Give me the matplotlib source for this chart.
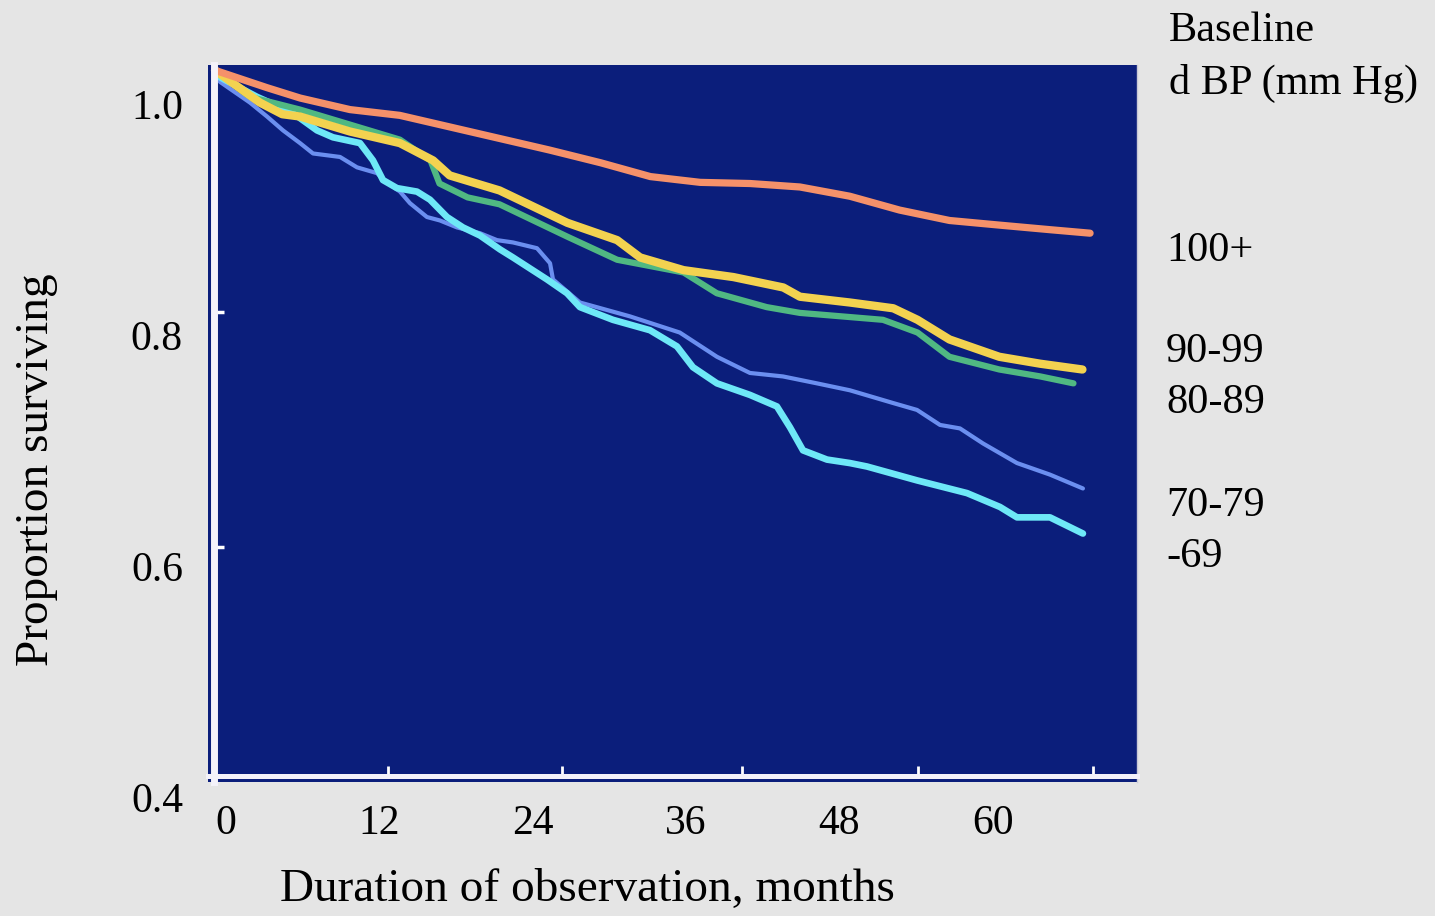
import numpy as np
import matplotlib.pyplot as plt
from matplotlib.transforms import offset_copy

plt.rcParams['font.family'] = ['Liberation Serif', 'DejaVu Serif']

# months of follow-up / proportion surviving, one curve per baseline diastolic BP group
bp_100_months = [-0.86, 3.2, 5.8, 9.7, 13.6, 17.5, 21.4, 25.3, 29.3, 33.2, 37.1, 41.0, 44.9, 48.8, 52.7, 56.6, 60.5, 64.5, 67.6]
bp_100_surv = [1.030, 1.015, 1.006, 0.996, 0.991, 0.981, 0.971, 0.961, 0.950, 0.938, 0.933, 0.932, 0.929, 0.921, 0.909, 0.900, 0.896, 0.892, 0.889]

bp_90_months = [-0.86, 2.66, 4.4, 5.79, 9.70, 13.6, 16.2, 17.5, 21.4, 26.7, 30.6, 32.4, 35.8, 39.7, 43.6, 44.9, 48.8, 52.2, 54.1, 56.6, 60.5, 63.7, 67.0]
bp_90_surv = [1.030, 1.002, 0.992, 0.990, 0.977, 0.967, 0.952, 0.939, 0.926, 0.898, 0.883, 0.868, 0.857, 0.851, 0.842, 0.834, 0.829, 0.824, 0.814, 0.797, 0.782, 0.776, 0.771]

bp_80_months = [-0.86, 1.88, 5.79, 9.70, 13.6, 16.0, 16.7, 18.9, 21.4, 26.7, 30.6, 35.8, 38.4, 42.3, 44.9, 51.4, 54.1, 56.6, 60.5, 63.7, 66.3]
bp_80_surv = [1.030, 1.007, 0.996, 0.983, 0.970, 0.952, 0.932, 0.920, 0.914, 0.886, 0.866, 0.855, 0.837, 0.825, 0.820, 0.814, 0.803, 0.782, 0.771, 0.765, 0.759]

bp_70_months = [-0.86, -0.47, 1.88, 3.21, 4.46, 5.79, 6.81, 8.92, 10.25, 11.81, 12.59, 13.61, 14.39, 15.72, 16.74, 18.07, 19.87, 21.2, 22.45, 24.33, 25.35, 25.58, 27.69, 31.6, 35.5, 38.41, 40.99, 43.57, 46.23, 48.81, 52.18, 54.06, 55.86, 57.42, 59.22, 61.88, 64.46, 67.04]
bp_70_surv = [1.030, 1.020, 1.002, 0.990, 0.978, 0.967, 0.958, 0.955, 0.946, 0.941, 0.933, 0.925, 0.915, 0.903, 0.900, 0.894, 0.889, 0.883, 0.881, 0.876, 0.863, 0.849, 0.829, 0.817, 0.803, 0.782, 0.768, 0.765, 0.759, 0.753, 0.742, 0.736, 0.723, 0.720, 0.707, 0.690, 0.680, 0.668]

bp_69_months = [-0.86, -0.47, 2.43, 5.24, 7.12, 8.37, 10.48, 11.5, 12.28, 13.38, 14.94, 15.96, 17.29, 18.54, 19.87, 21.43, 22.45, 25.11, 26.68, 27.69, 30.27, 33.17, 35.28, 36.53, 38.41, 40.99, 43.1, 44.12, 45.14, 47.02, 48.81, 50.15, 54.06, 57.97, 60.55, 61.88, 64.46, 67.04]
bp_69_surv = [1.030, 1.024, 1.007, 0.993, 0.978, 0.972, 0.967, 0.952, 0.935, 0.928, 0.925, 0.918, 0.903, 0.894, 0.887, 0.875, 0.868, 0.849, 0.837, 0.825, 0.814, 0.805, 0.791, 0.773, 0.759, 0.749, 0.739, 0.721, 0.701, 0.693, 0.690, 0.687, 0.675, 0.664, 0.652, 0.643, 0.643, 0.629]

month_labels = [0, 12, 24, 36, 48, 60]
surv_labels = [1.0, 0.8, 0.6, 0.4]
# the inner tick marks of the original axes
month_marks = [12.7, 26.3, 40.4, 54.1, 67.8]
surv_marks = [0.821, 0.617]

group_names = ['100+', '90-99', '80-89', '70-79', '-69']
group_label_y = [261, 362, 413, 516, 567]  # baseline of each label, pixels from top

bg = '#e5e5e5'
panel = '#0b1e7b'
line_kw = dict(solid_joinstyle='round', solid_capstyle='round')

fig = plt.figure(figsize=(14.35, 9.16), dpi=100, facecolor=bg)
ax = fig.add_axes([208 / 1435, 134 / 916, 929 / 1435, 717 / 916])
ax.set_facecolor(panel)

ax.plot(bp_70_months, bp_70_surv, color='#6b8ff0', lw=3, **line_kw)
ax.plot(bp_69_months, bp_69_surv, color='#6ee8f7', lw=4.8, **line_kw)
ax.plot(bp_80_months, bp_80_surv, color='#50b882', lw=4.5, **line_kw)
ax.plot(bp_90_months, bp_90_surv, color='#f3d250', lw=6, **line_kw)
ax.plot(bp_100_months, bp_100_surv, color='#f5916a', lw=5.2, **line_kw)

ax.set_xlim(-1.408, 71.27)
ax.set_ylim(0.4139, 1.0346)

ax.spines['top'].set_visible(False)
ax.spines['right'].set_color('#c9c9d6')
ax.spines['right'].set_linewidth(1)
ax.spines['left'].set_position(('data', -0.94))
ax.spines['left'].set_color('#f4f2fa')
ax.spines['left'].set_linewidth(5)
ax.spines['bottom'].set_position(('data', 0.4195))
ax.spines['bottom'].set_color('#f4f2fa')
ax.spines['bottom'].set_linewidth(3.6)

ax.set_xticks(month_labels)
ax.set_xticklabels([str(m) for m in month_labels])
ax.set_xticks(month_marks, minor=True)
ax.tick_params(axis='x', which='major', length=0, pad=21, labelsize=30)
ax.tick_params(axis='x', which='minor', direction='in', length=7, width=2, color='white')

ax.set_yticks([])
ax.set_yticks(surv_marks, minor=True)
ax.tick_params(axis='y', which='minor', direction='in', length=7, width=2.5, color='white')

ylab_trans = offset_copy(ax.get_yaxis_transform(), fig=fig, y=-4, units='dots')
for v in surv_labels:
    ax.text(-0.027, v, f'{v:.1f}', transform=ylab_trans,
            ha='right', va='center', fontsize=30, clip_on=False)

fig.text(587 / 1435, 1 - 890 / 916, 'Duration of observation, months',
         ha='center', va='center', fontsize=34)
fig.text(37 / 1435, 1 - 470 / 916, 'Proportion surviving',
         ha='center', va='center', rotation=90, fontsize=34)

fig.text(1169 / 1435, 1 - 41 / 916, 'Baseline', ha='left', va='baseline', fontsize=30.5)
fig.text(1169 / 1435, 1 - 94 / 916, 'd BP (mm Hg)', ha='left', va='baseline', fontsize=30.5)
for name, ypix in zip(group_names, group_label_y):
    fig.text(1166 / 1435, 1 - ypix / 916, name, ha='left', va='baseline', fontsize=30.5)

fig.savefig('out.png', dpi=100, facecolor=bg)
